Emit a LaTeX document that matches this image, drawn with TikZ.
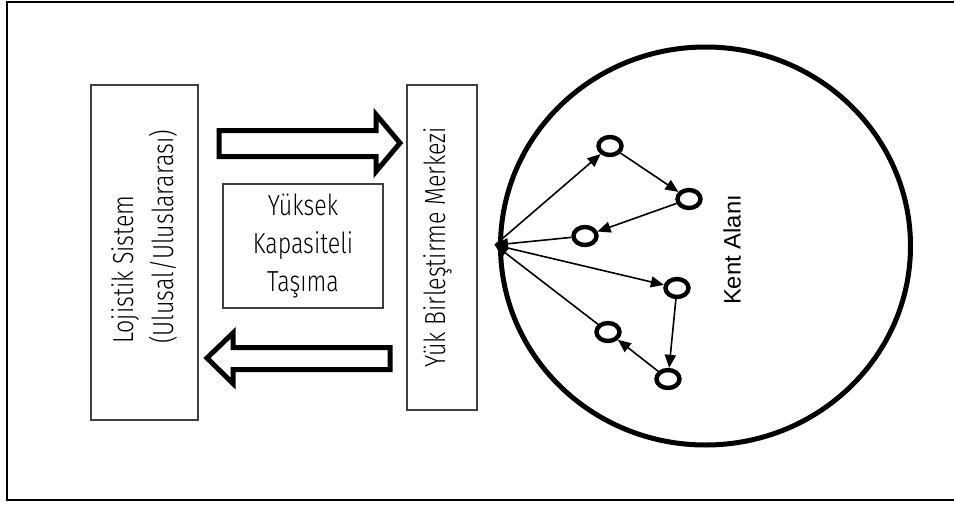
\documentclass[tikz,border=0pt]{standalone}
\usepackage{fontspec}
\setmainfont{Fira Sans Light}[FakeStretch=0.8]
\newfontfamily\kentfont{Liberation Sans}
\usetikzlibrary{arrows.meta,shapes.geometric}
\begin{document}
\begin{tikzpicture}[x=0.5pt,y=-0.5pt,
  panel/.style={draw=black!75,line width=0.7pt,inner sep=0pt},
  blockarrow/.style={draw=black,line width=2.5pt,line join=miter,fill=white},
  stop/.style={ellipse,draw,line width=2.2pt,inner sep=0pt,minimum width=11.5pt,minimum height=9pt},
  route/.style={line width=0.8pt,-{Triangle[length=6.5pt,width=5.5pt]}},
  lbl/.style={font=\fontsize{14.5}{19}\selectfont,inner sep=0pt}
]
\useasboundingbox (0,0) rectangle (954,504);
% outer frame
\draw[line width=1pt] (960,1.5) -- (7,1.5) -- (7,500) -- (960,500);

% boxes
\node[panel,minimum width=53.5pt,minimum height=167.5pt] (lojistik) at (144.5,252.5) {};
\node[lbl,rotate=90,align=left,font=\fontsize{14.5}{20}\selectfont] (lojtext) at (145,237)
  {Lojistik Sistem\\(Ulusal/Uluslararası)};
\node[panel,minimum width=35pt,minimum height=162.5pt] (merkez) at (442,247.5) {};
\node[lbl,rotate=90] (merktext) at (438,247.5) {Yük Birleştirme Merkezi};
\node[panel,minimum width=80pt,minimum height=62pt,align=center,lbl] (tasima) at (303,246)
  {Yüksek\\Kapasiteli\\Taşıma};

% block arrows between the system and the centre
\draw[blockarrow] (219,130.5) -- (376,130.5) -- (376,114.5) -- (400,143) -- (376,171.5)
  -- (376,156.5) -- (219,156.5) -- cycle;
\draw[blockarrow] (390,347.5) -- (233,347.5) -- (233,333) -- (207,358) -- (233,383.5)
  -- (233,369.5) -- (390,369.5) -- cycle;

% city area
\draw[line width=2.5pt] (705.5,246) ellipse [x radius=102.5pt, y radius=99.5pt];
\node[font=\kentfont\fontsize{11.9}{14}\selectfont,rotate=90,inner sep=0pt] (kent) at (732,250) {Kent Alanı};

% distribution tours
\coordinate (hub) at (495,245);
\node[stop] (n1) at (610,146) {};
\node[stop] (n2) at (689,199) {};
\node[stop] (n3) at (585,236) {};
\node[stop] (n4) at (677,288) {};
\node[stop] (n5) at (608,332) {};
\node[stop] (n6) at (668,379) {};

\draw[route] (hub) -- (n1);
\draw[route] (n1) -- (n2);
\draw[route] (n2) -- (n3);
\draw[route] (n3) -- (hub);
\draw[route] (hub) -- (n4);
\draw[route] (n4) -- (n6);
\draw[route] (n6) -- (n5);
\draw[route] (n5) -- (hub);
\end{tikzpicture}
\end{document}
